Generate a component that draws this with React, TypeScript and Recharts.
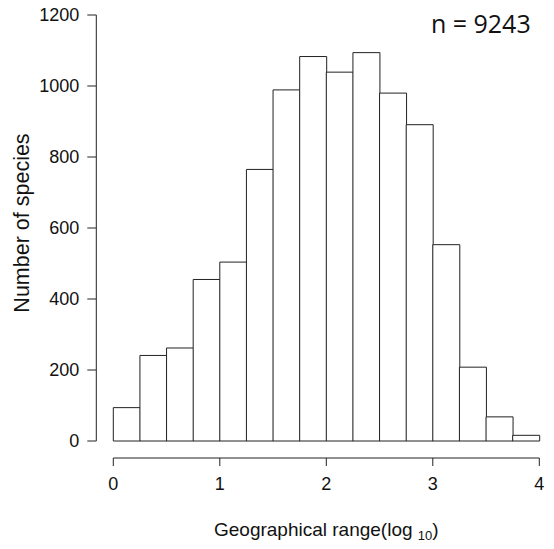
import React from 'react';
import { BarChart, Bar, XAxis, YAxis } from 'recharts';

const BIN_STARTS = [0, 0.25, 0.5, 0.75, 1, 1.25, 1.5, 1.75, 2, 2.25, 2.5, 2.75, 3, 3.25, 3.5, 3.75];
const SPECIES_COUNTS = [94, 241, 262, 455, 504, 765, 989, 1083, 1039, 1094, 980, 891, 553, 208, 68, 16];
const X_TICKS = [0, 1, 2, 3, 4];
const Y_TICKS = [0, 200, 400, 600, 800, 1000, 1200];

const data = BIN_STARTS.map((start, i) => ({ bin: String(start), start, count: SPECIES_COUNTS[i] }));

const FONT = '"Liberation Sans", Arial, sans-serif';
const INK = '#222';

// y title, rotated and drawn next to the visible axis
const YTitle = (props: any) => {
  const { viewBox } = props;
  const x = viewBox.x + 28.5;
  const y = viewBox.y + viewBox.height / 2 - 5;
  return (
    <text x={x} y={y} transform={`rotate(-90, ${x}, ${y})`} textAnchor="middle"
      fontFamily={FONT} fontSize={21.5} fill="#111">
      Number of species
    </text>
  );
};

// x title with the subscript 10
const XTitle = (props: any) => {
  const { viewBox } = props;
  const x = viewBox.x + viewBox.width / 2;
  const y = viewBox.y + 78;
  return (
    <text x={x} y={y} textAnchor="middle" fontFamily={FONT} fontSize={19} fill="#111">
      Geographical range(log <tspan fontSize={13} dy={4}>10</tspan><tspan dy={-4}>)</tspan>
    </text>
  );
};

export default function App() {
  // negative margin cancels the body margin so the svg starts at the page corner
  return (
    <div style={{ position: 'relative', width: 554, height: 549, margin: -8 }}>
      <BarChart
        width={554}
        height={549}
        data={data}
        barCategoryGap={0}
        margin={{ top: 15, right: 14.7, left: 0, bottom: 0 }}
      >
        {/* spacers so the axes sit apart from the bars, R style */}
        <XAxis xAxisId="cat" dataKey="bin" height={17} tick={false} axisLine={false} tickLine={false} />
        <XAxis
          xAxisId="num"
          dataKey="start"
          type="number"
          domain={[0, 4]}
          ticks={X_TICKS}
          height={91}
          stroke={INK}
          tickSize={8}
          tickMargin={11}
          tick={{ fontFamily: FONT, fontSize: 18, fill: '#111' }}
          label={{ content: XTitle }}
        />
        <YAxis yAxisId="pad" domain={[0, 1200]} width={17} tick={false} axisLine={false} tickLine={false} />
        <YAxis
          yAxisId="vis"
          domain={[0, 1200]}
          ticks={Y_TICKS}
          width={96.3}
          stroke={INK}
          tickSize={9}
          tickMargin={8}
          interval={0}
          tick={{ fontFamily: FONT, fontSize: 18, fill: '#111' }}
          label={{ content: YTitle }}
        />
        <Bar
          xAxisId="cat"
          yAxisId="vis"
          dataKey="count"
          fill="#fff"
          stroke={INK}
          strokeWidth={1}
          isAnimationActive={false}
        />
      </BarChart>
      <div
        style={{
          position: 'absolute',
          right: 23.3,
          top: 10.8,
          fontFamily: '"Open Sans", sans-serif',
          fontSize: 25,
          lineHeight: '25px',
          color: '#111',
        }}
      >
        n = 9243
      </div>
    </div>
  );
}
